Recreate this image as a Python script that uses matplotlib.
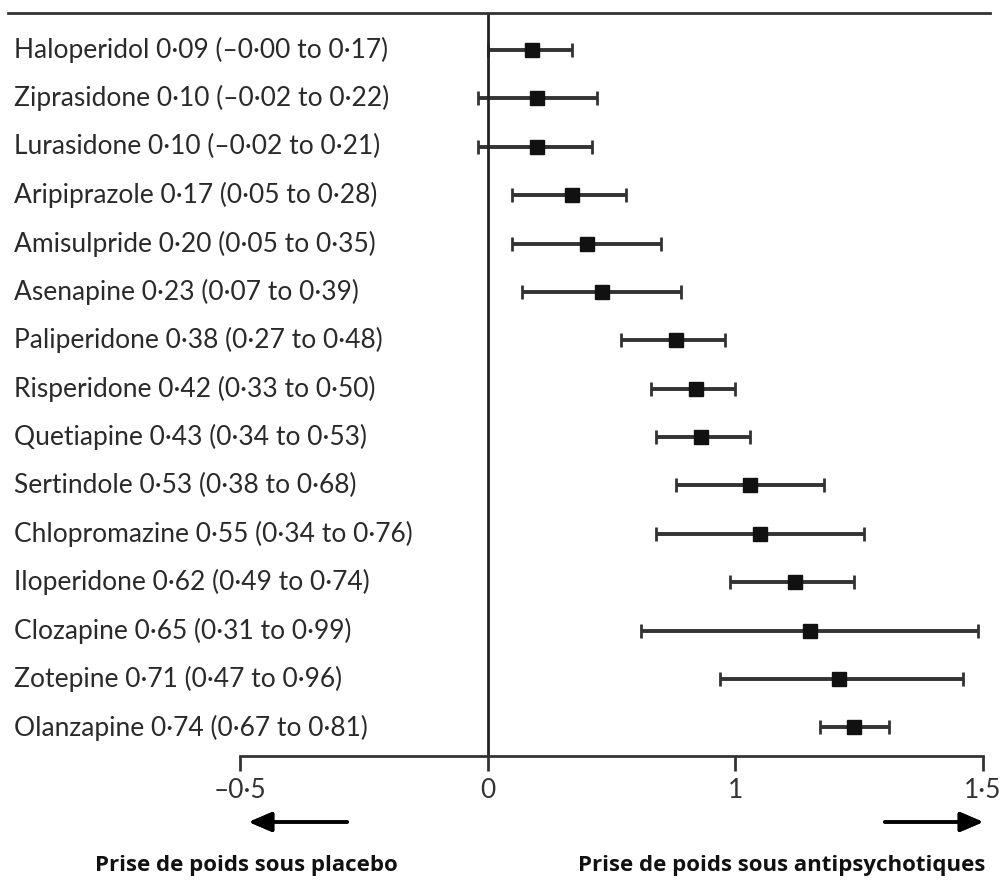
import numpy as np
import matplotlib
matplotlib.use("Agg")
import matplotlib.pyplot as plt
from matplotlib.lines import Line2D
from matplotlib.transforms import blended_transform_factory

# Données (différence moyenne, IC 95 %)
drugs = ["Haloperidol", "Ziprasidone", "Lurasidone", "Aripiprazole", "Amisulpride",
         "Asenapine", "Paliperidone", "Risperidone", "Quetiapine", "Sertindole",
         "Chlopromazine", "Iloperidone", "Clozapine", "Zotepine", "Olanzapine"]
est = [0.09, 0.10, 0.10, 0.17, 0.20, 0.23, 0.38, 0.42, 0.43, 0.53, 0.55, 0.62, 0.65, 0.71, 0.74]
low = [-0.00, -0.02, -0.02, 0.05, 0.05, 0.07, 0.27, 0.33, 0.34, 0.38, 0.34, 0.49, 0.31, 0.47, 0.67]
high = [0.17, 0.22, 0.21, 0.28, 0.35, 0.39, 0.48, 0.50, 0.53, 0.68, 0.76, 0.74, 0.99, 0.96, 0.81]
tick_pos = [-0.5, 0, 0.5, 1.0]
tick_lab = ["\u20130\u00b75", "0", "1", "1\u00b75"]

def fmt(v):
    s = f"{abs(v):.2f}".replace(".", "\u00b7")
    return ("\u2013" if v < 0 else "") + s

W, H = 1000, 881
fig = plt.figure(figsize=(W / 100, H / 100), dpi=100)
ax = fig.add_axes([240 / W, 1 - 756 / H, (983 - 240) / W, (756 - 13) / H])

y = np.arange(len(drugs))
est = np.array(est)
err = [est - np.array(low), np.array(high) - est]
ax.errorbar(est, y, xerr=err, fmt="s", color="#111111", ecolor="#333333",
            elinewidth=2.8, capsize=5, capthick=2, markersize=10)

ax.axvline(0, color="#222222", lw=2)
ax.set_xlim(-0.5, 1.0)
ax.set_ylim(14.59, -0.764)
ax.set_yticks([])
ax.set_xticks(tick_pos)
ax.set_xticklabels(tick_lab, fontsize=19, color="#333333", family="Lato")
ax.tick_params(axis="x", length=11, width=2, color="#333333", pad=5)
for s in ["top", "left", "right"]:
    ax.spines[s].set_visible(False)
ax.spines["bottom"].set_linewidth(2)
ax.spines["bottom"].set_color("#333333")

trans = blended_transform_factory(fig.transFigure, ax.transData)
for i, d in enumerate(drugs):
    lo = "\u20130\u00b700" if d == "Haloperidol" else fmt(low[i])
    lbl = f"{d} {fmt(est[i])} ({lo} to {fmt(high[i])})"
    ax.text(14 / W, i, lbl, transform=trans, ha="left", va="center",
            fontsize=19, color="#2a2a2a", family="Lato", clip_on=False)

# ligne du haut
fig.add_artist(Line2D([8 / W, 990 / W], [1 - 13 / H, 1 - 13 / H], color="#333333", lw=2))

# flèches
ya = 1 - 822 / H
style = "-|>,head_length=1.4,head_width=0.6"
fig.add_artist(plt.annotate("", xy=(246 / W, ya), xytext=(350 / W, ya), xycoords="figure fraction",
                            arrowprops=dict(arrowstyle=style, color="black", lw=2.5)))
fig.add_artist(plt.annotate("", xy=(986 / W, ya), xytext=(882 / W, ya), xycoords="figure fraction",
                            arrowprops=dict(arrowstyle=style, color="black", lw=2.5)))

yt = 1 - 866 / H
fig.text(95 / W, yt, "Prise de poids sous placebo", ha="left", va="center",
         fontsize=16, fontweight="bold", family="Open Sans", color="#111111")
fig.text(985 / W, yt, "Prise de poids sous antipsychotiques", ha="right", va="center",
         fontsize=16, fontweight="bold", family="Open Sans", color="#111111")

fig.savefig("out.png", dpi=100)
